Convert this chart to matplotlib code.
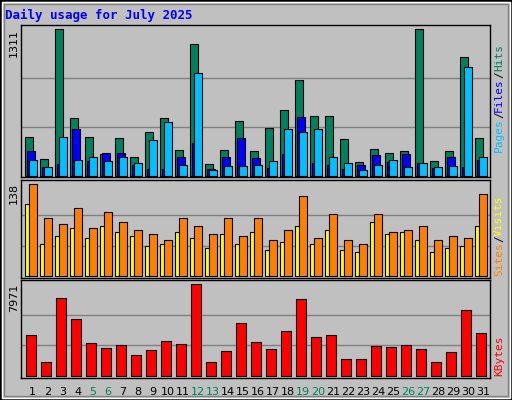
import matplotlib
matplotlib.use("Agg")
import matplotlib.pyplot as plt
from matplotlib.patches import Rectangle

days = list(range(1, 32))
weekend = [5, 6, 12, 13, 19, 20, 26, 27]
hits = [348,152,1311,517,348,196,339,170,393,517,232,1177,107,232,490,223,428,589,856,535,535,330,125,241,205,223,1311,134,223,1061,339]
files = [223,80,107,419,134,205,205,98,62,62,170,294,62,170,339,161,71,196,526,116,98,62,98,187,125,196,116,71,170,80,143]
pages = [143,80,348,143,170,134,170,116,321,482,98,919,54,89,89,98,134,419,393,419,170,116,54,98,143,80,116,80,89,972,170]
visits = [138,87,78,102,73,96,81,70,64,54,87,76,63,87,61,88,55,69,120,57,94,55,48,94,67,69,76,55,61,57,123]
sites = [108,49,61,72,57,76,67,60,45,48,67,57,42,63,49,66,40,52,76,48,69,39,37,81,64,66,54,37,43,45,75]
kbytes = [3520,1164,6749,4916,2822,2385,2647,1775,2211,2996,2734,7971,1164,2124,4567,2909,2298,3869,6662,3345,3520,1425,1425,2560,2473,2647,2298,1164,2036,5702,3694]

W, H = 512, 400
BG = "#C0C0C0"
fig = plt.figure(figsize=(W/100, H/100), dpi=100, facecolor=BG)
fig.patches.append(Rectangle((0, 0), 1, 1, transform=fig.transFigure, fill=False, ec="black", lw=2))
fig.patches.append(Rectangle((2/W, 2/H), 1-4/W, 1-4/H, transform=fig.transFigure, fill=False, ec="white", lw=1))
fig.patches.append(Rectangle((4/W, 4/H), 1-8/W, 1-8/H, transform=fig.transFigure, fill=False, ec="#808080", lw=1))

def pax(top, bottom):
    l, r = 20.7, 490.3
    return fig.add_axes([l/W, 1-bottom/H, (r-l)/W, (bottom-top)/H], facecolor=BG)

xl = (-0.307, 31.0)
mono = "DejaVu Sans Mono"

def style(ax, vmax, ylim, top_px):
    ax.set_xlim(*xl)
    ax.set_ylim(*ylim)
    ax.set_xticks([]); ax.set_yticks([])
    for s in ax.spines.values():
        s.set_color("black"); s.set_linewidth(1)
    for g in (vmax/3, vmax*2/3):
        ax.axhline(g, color="#808080", lw=1, zorder=0)
    fig.text(14/W, 1-top_px/H, str(vmax), rotation=90, ha="center", va="top",
             fontsize=8, family="DejaVu Sans")

def bars(ax, vals, off, w, color):
    ax.bar([d-1+off for d in days], vals, width=w, align="edge", color=color, ec="black", lw=0.8, zorder=2)

a1 = pax(24.7, 176.7)
style(a1, 1311, (-6, 1352), 29)
bars(a1, hits, 0, 0.49, "#00805C")
bars(a1, files, 0.133, 0.49, "#0000FF")
bars(a1, pages, 0.267, 0.49, "#00C0FF")

a2 = pax(180.3, 278.3)
style(a2, 138, (-3, 144), 183)
bars(a2, sites, 0, 0.267, "#FFFF00")
bars(a2, visits, 0.267, 0.49, "#FF8000")

a3 = pax(280.3, 377.7)
style(a3, 7971, (-174, 8320), 284)
bars(a3, kbytes, 0.067, 0.667, "#FF0000")

for d in days:
    a3.text(d-1+0.5, -0.1, str(d), transform=a3.get_xaxis_transform(), ha="center", va="top",
            fontsize=8, color="#00805C" if d in weekend else "black")

fig.text(5/W, 1-15/H, "Daily usage for July 2025", color="#0000FF", fontsize=9,
         fontweight="bold", family=mono, va="center")

def rlabel(y, parts):
    x = 499/W
    yy = y
    for t, c in parts:
        tx = fig.text(x, yy, t, rotation=90, color=c, fontsize=8, family=mono, va="bottom", ha="center")
        fig.canvas.draw()
        bb = tx.get_window_extent()
        yy += bb.height/H

rlabel(1-152/H, [("Pages", "#00C0FF"), ("/", "black"), ("Files", "#0000FF"), ("/", "black"), ("Hits", "#00805C")])
rlabel(1-276/H, [("Sites", "#FF8000"), ("/", "black"), ("Visits", "#FFFF00")])
rlabel(1-376/H, [("KBytes", "#FF0000")])

fig.savefig("out.png", dpi=100, facecolor=BG)
